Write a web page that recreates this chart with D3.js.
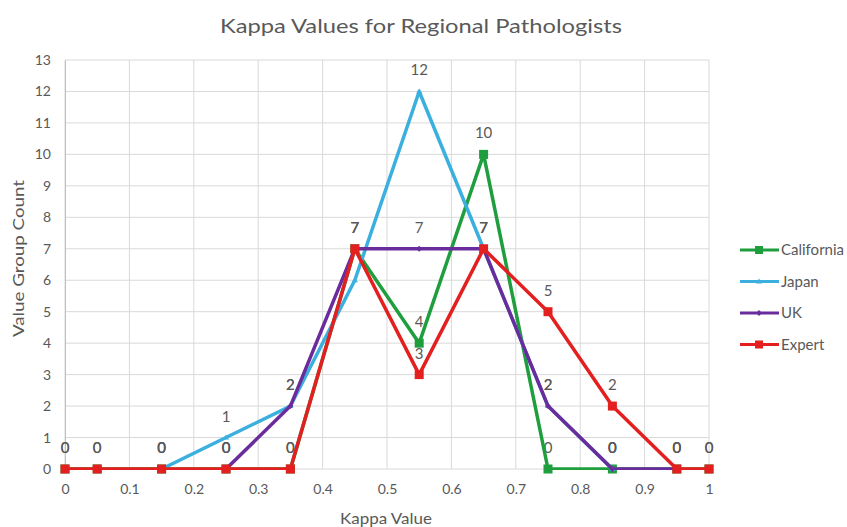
<!DOCTYPE html>
<html><head><meta charset="utf-8">
<script src="https://cdn.jsdelivr.net/npm/d3@7"></script>
<style>body{margin:0;background:#fff}svg{display:block}</style>
</head><body>
<script>
const xValues = [0,0.05,0.15,0.25,0.35,0.45,0.55,0.65,0.75,0.85,0.95,1];
const california = [0,0,0,0,0,7,4,10,0,0,0,0];
const japan = [null,null,0,1,2,6,12,7,2,0,null,null];
const uk = [null,null,null,0,2,7,7,7,2,0,0,null];
const expert = [0,0,0,0,0,7,3,7,5,2,0,0];
const seriesNames = ["California","Japan","UK","Expert"];
const xTicks = [0,0.1,0.2,0.3,0.4,0.5,0.6,0.7,0.8,0.9,1];
const yTicks = d3.range(0,14);
// labels hidden: Japan at 0.45
const hiddenLabels = [["Japan",0.45]];

const W=847,H=527;
const m={l:65,r:138,t:60,b:58};
const x=d3.scaleLinear().domain([0,1]).range([m.l,W-m.r]);
const y=d3.scaleLinear().domain([0,13]).range([H-m.b,m.t]);
const colors={California:"#1f9e3e",Japan:"#3bb0de",UK:"#6a2c9c",Expert:"#e3201f"};
const data={California:california,Japan:japan,UK:uk,Expert:expert};
const font="Lato, 'Open Sans', sans-serif";
const gray="#595959";

const svg=d3.select("body").append("svg").attr("width",W).attr("height",H).style("font-family",font);

// grid
svg.append("g").selectAll("line").data(yTicks).join("line")
 .attr("x1",m.l).attr("x2",W-m.r).attr("y1",d=>y(d)).attr("y2",d=>y(d))
 .attr("stroke","#d9d9d9").attr("stroke-width",1);
svg.append("g").selectAll("line").data(xTicks).join("line")
 .attr("x1",d=>x(d)).attr("x2",d=>x(d)).attr("y1",y(0)).attr("y2",y(13))
 .attr("stroke","#d9d9d9").attr("stroke-width",1);

// axes
const yAxis=d3.axisLeft(y).tickValues(yTicks).tickSize(0).tickPadding(14).tickFormat(d3.format("d"));
const gy=svg.append("g").attr("transform",`translate(${m.l},0)`).call(yAxis);
gy.select(".domain").attr("stroke","#bfbfbf");
gy.selectAll("text").attr("fill",gray).style("font-size","14px").style("font-family",font);
const xAxis=d3.axisBottom(x).tickValues(xTicks).tickSize(0).tickPadding(15).tickFormat(d=>String(d));
const gx=svg.append("g").attr("transform",`translate(0,${y(0)})`).call(xAxis);
gx.select(".domain").remove();
gx.selectAll("text").attr("fill",gray).style("font-size","14px").style("font-family",font);

// titles
svg.append("text").attr("x",421).attr("y",33).attr("text-anchor","middle").attr("fill",gray)
 .style("font-size","20px").attr("textLength",402).attr("lengthAdjust","spacingAndGlyphs").text("Kappa Values for Regional Pathologists");
svg.append("text").attr("x",386).attr("y",524).attr("text-anchor","middle").attr("fill",gray)
 .style("font-size","15px").attr("textLength",92).attr("lengthAdjust","spacingAndGlyphs").text("Kappa Value");
svg.append("text").attr("transform",`translate(24,${(y(0)+y(13))/2-6}) rotate(-90)`).attr("text-anchor","middle").attr("fill",gray)
 .style("font-size","15px").attr("textLength",157).attr("lengthAdjust","spacingAndGlyphs").text("Value Group Count");

// labels (beneath lines)
const lab=svg.append("g");
seriesNames.forEach(s=>{
  data[s].forEach((v,i)=>{
    if(v===null) return;
    if(hiddenLabels.some(h=>h[0]===s&&h[1]===xValues[i])) return;
    lab.append("text").attr("x",x(xValues[i])).attr("y",y(v)-16).attr("text-anchor","middle")
     .attr("fill",gray).style("font-size","15px").text(v);
  });
});

// clip for lines
svg.append("clipPath").attr("id","clip").append("rect")
 .attr("x",0).attr("y",0).attr("width",W).attr("height",y(0)+1);

const line=d3.line().defined(d=>d[1]!==null).x(d=>x(d[0])).y(d=>y(d[1]));
seriesNames.forEach(s=>{
  const pts=xValues.map((xv,i)=>[xv,data[s][i]]);
  const g=svg.append("g");
  g.append("path").attr("d",line(pts)).attr("fill","none").attr("stroke",colors[s])
   .attr("stroke-width",3.5).attr("stroke-linejoin","round").attr("clip-path","url(#clip)");
  const p=pts.filter(d=>d[1]!==null);
  if(s==="California"||s==="Expert"){
    g.selectAll("rect").data(p).join("rect").attr("x",d=>x(d[0])-4.5).attr("y",d=>y(d[1])-4.5)
     .attr("width",9).attr("height",9).attr("fill",colors[s]);
  } else if(s==="Japan"){
    g.selectAll("path.m").data(p).join("path").attr("class","m")
     .attr("d",d=>`M${x(d[0])},${y(d[1])-3}L${x(d[0])+3},${y(d[1])+2}L${x(d[0])-3},${y(d[1])+2}Z`).attr("fill",colors[s]);
  } else {
    g.selectAll("path.m").data(p).join("path").attr("class","m")
     .attr("d",d=>`M${x(d[0])},${y(d[1])-3}L${x(d[0])+3},${y(d[1])}L${x(d[0])},${y(d[1])+3}L${x(d[0])-3},${y(d[1])}Z`).attr("fill",colors[s]);
  }
});

// legend
const lg=svg.append("g");
seriesNames.forEach((s,i)=>{
  const ly=250+i*31.5;
  lg.append("line").attr("x1",740).attr("x2",779).attr("y1",ly).attr("y2",ly).attr("stroke",colors[s]).attr("stroke-width",3);
  if(s==="California"||s==="Expert"){
    lg.append("rect").attr("x",755).attr("y",ly-4).attr("width",8).attr("height",8).attr("fill",colors[s]);
  } else if(s==="Japan"){
    lg.append("path").attr("d",`M759,${ly-3}L762,${ly+2}L756,${ly+2}Z`).attr("fill",colors[s]);
  } else {
    lg.append("path").attr("d",`M759,${ly-3}L762,${ly}L759,${ly+3}L756,${ly}Z`).attr("fill",colors[s]);
  }
  lg.append("text").attr("x",781).attr("y",ly+5).attr("fill",gray).style("font-size","15px").text(s);
});
</script>
</body></html>
